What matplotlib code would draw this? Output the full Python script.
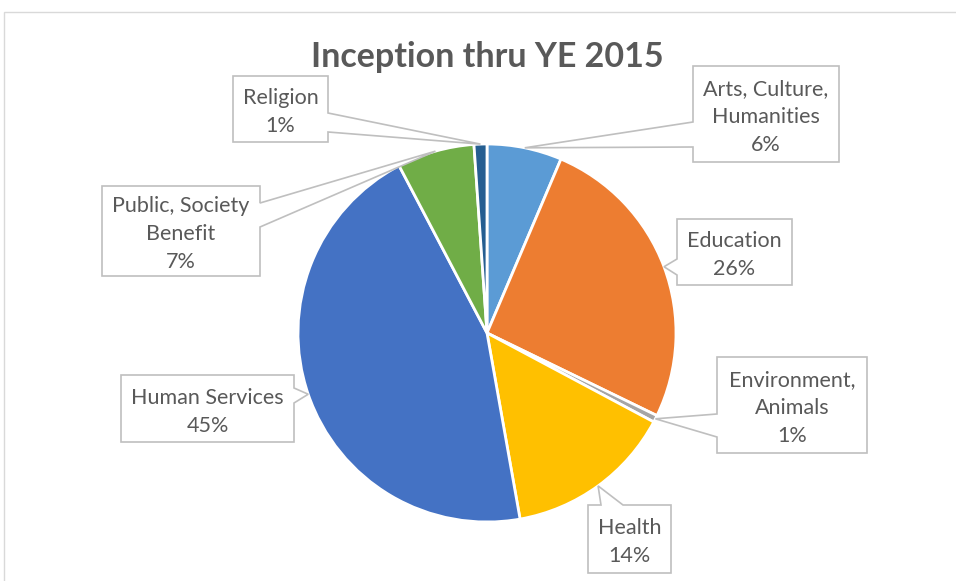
import matplotlib

matplotlib.use("Agg")
import matplotlib.pyplot as plt
import numpy as np
from matplotlib.patches import Polygon, Rectangle

plt.rcParams["font.family"] = ["Lato", "DejaVu Sans"]

# 数据：各类别占比（按图上扇区角度估读）
categories = ["Arts, Culture,\nHumanities", "Education", "Environment,\nAnimals", "Health",
              "Human Services", "Public, Society\nBenefit", "Religion"]
shares = [6.4, 25.8, 0.6, 14.4, 45.1, 6.6, 1.1]
colors = ["#5B9BD5", "#ED7D31", "#A5A5A5", "#FFC000", "#4472C4", "#70AD47", "#255E91"]
title = "Inception thru YE 2015"

W, H = 956, 581
CX, CY, R = 487, 333, 189

# 标注框布局（像素坐标，y 向下）：box, 连接边, 连接边上的两个端点
callouts = [
    ((693, 66, 839, 162), "left", (122, 147)),
    ((677, 219, 792, 285), "left", (259, 275)),
    ((717, 357, 867, 453), "left", (414, 437)),
    ((588, 505, 671, 573), "top", (601, 623)),
    ((121, 375, 294, 442), "right", (388, 403)),
    ((102, 186, 260, 276), "right", (203, 227)),
    ((233, 76, 328, 142), "right", (113, 132)),
]


def fy(py):
    return H - py


def callout_poly(box, side, base, tip):
    x0, y0, x1, y1 = box
    b0, b1 = base
    pts = [(x0, y0)]
    if side == "top":
        pts += [(b0, y0), tip, (b1, y0)]
    pts += [(x1, y0)]
    if side == "right":
        pts += [(x1, b0), tip, (x1, b1)]
    pts += [(x1, y1)]
    if side == "bottom":
        pts += [(b1, y1), tip, (b0, y1)]
    pts += [(x0, y1)]
    if side == "left":
        pts += [(x0, b1), tip, (x0, b0)]
    return [(px, fy(py)) for px, py in pts]


fig = plt.figure(figsize=(W / 100, H / 100), dpi=100)
ax = fig.add_axes([0, 0, 1, 1])

wedges, _ = ax.pie(shares, colors=colors, startangle=90, counterclock=False,
                   center=(CX, fy(CY)), radius=R,
                   wedgeprops=dict(edgecolor="white", linewidth=2.0))

for w, name, share, (box, side, base) in zip(wedges, categories, shares, callouts):
    mid = np.deg2rad((w.theta1 + w.theta2) / 2)
    tip = (CX + R * np.cos(mid), CY - R * np.sin(mid))
    ax.add_patch(Polygon(callout_poly(box, side, base, tip), closed=True,
                         facecolor="white", edgecolor="#BFBFBF", linewidth=1.2, zorder=3))
    x0, y0, x1, y1 = box
    ax.text((x0 + x1) / 2, fy((y0 + y1) / 2 + 3), f"{name}\n{share:.0f}%", ha="center", va="center",
            fontsize=15.5, color="#595959", linespacing=1.5, zorder=4)

ax.text(487, fy(57), title, ha="center", va="center", fontsize=24.5, fontweight="bold", color="#595959")

# 图表外框
ax.add_patch(Rectangle((4, fy(H + 10)), W + 10, H - 2, facecolor="none", edgecolor="#D9D9D9", linewidth=1.0))

ax.set_xlim(0, W)
ax.set_ylim(0, H)
ax.set_aspect("equal")
ax.axis("off")

fig.savefig("out.png", dpi=100)
plt.close(fig)
